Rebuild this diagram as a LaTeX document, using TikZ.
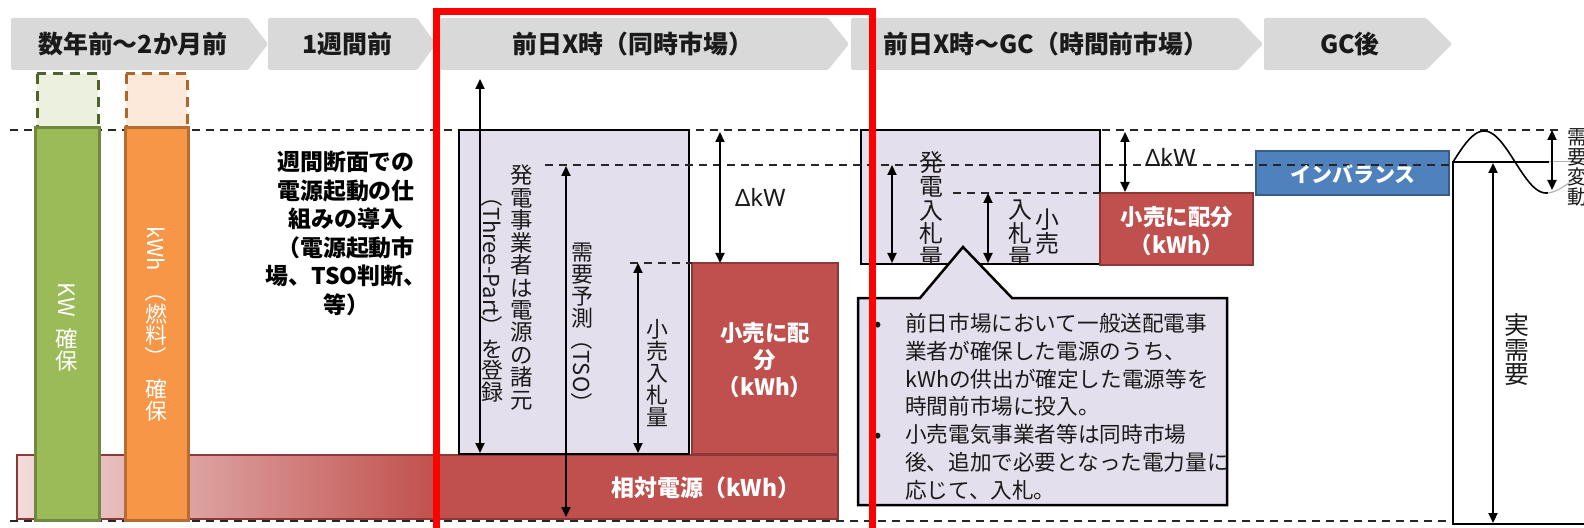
\documentclass[tikz,border=0pt]{standalone}
\usepackage{fontspec}
\setmainfont{Noto Sans CJK JP}
\newfontfamily\latinfont{Noto Sans}
\usepackage{graphicx}
\usetikzlibrary{arrows.meta}
\definecolor{chev}{HTML}{D9D9D9}
\definecolor{lilac}{HTML}{E4DFEC}
\definecolor{rfill}{HTML}{C0504D}
\definecolor{rdraw}{HTML}{8C3836}
\definecolor{bfill}{HTML}{4F81BD}
\definecolor{bdraw}{HTML}{385D8A}
\definecolor{gfill}{HTML}{9BBB59}
\definecolor{gdraw}{HTML}{71893F}
\definecolor{gpale}{HTML}{EBF1DE}
\definecolor{gdash}{HTML}{4F6228}
\definecolor{ofill}{HTML}{F79646}
\definecolor{odraw}{HTML}{B66D31}
\definecolor{opale}{HTML}{FDE9D9}
\definecolor{odash}{HTML}{B0652A}
\definecolor{pinkL}{HTML}{F2DCDB}
\definecolor{txt}{HTML}{1A1A1A}
\makeatletter
\newcommand{\vstr}[1]{\@tfor\vt@c:=#1\do{\hbox to 1em{\vrule width0pt height.88em depth.12em\hss\vt@c\hss}}}
\makeatother
\newcommand{\vlt}[1]{\hbox to 1em{\hss\rotatebox[origin=c]{-90}{\vrule width0pt height.88em depth.12em #1}\hss}}
\newcommand{\vcol}[1]{\vbox{\offinterlineskip #1}}
\begin{document}
\begin{tikzpicture}[x=1bp,y=-1bp,
  hdr/.style={font=\fontsize{25}{30}\selectfont\bfseries, text=txt, inner sep=0pt},
  dline/.style={dash pattern=on 8bp off 6bp, line width=1.6bp, draw=black!85},
  dimarrow/.style={{Triangle[length=10bp,width=9bp]}-{Triangle[length=10bp,width=9bp]}, line width=2bp, draw=black},
  lbox/.style={fill=lilac, draw=black, line width=2.5bp},
  rbox/.style={fill=rfill, draw=rdraw, line width=2.5bp},
  vt/.style={inner sep=0pt, anchor=north, text=txt},
  wt/.style={text=white, font=\fontsize{22.5}{27}\selectfont\bfseries, align=center, inner sep=0pt},
  ctext/.style={anchor=base west, inner sep=0pt, text=txt, font=\fontsize{21.7}{26}\selectfont},
  dkw/.style={anchor=west, inner sep=0pt, text=txt, font=\latinfont\fontsize{24}{28}\selectfont},
]
\useasboundingbox (0,0) rectangle (1584,528);
\fill[white] (0,0) rectangle (1584,528);

% header chevrons
\fill[chev, rounded corners=1.5bp] (11,18) -- (248,18) -- (268,44) -- (248,70) -- (11,70) -- cycle;
\fill[chev, rounded corners=1.5bp] (268,18) -- (417,18) -- (436,44) -- (417,70) -- (268,70) -- cycle;
\fill[chev, rounded corners=1.5bp] (440,18) -- (828,18) -- (849,44) -- (828,70) -- (440,70) -- cycle;
\fill[chev, rounded corners=1.5bp] (851,18) -- (1238,18) -- (1263,44) -- (1238,70) -- (851,70) -- cycle;
\fill[chev, rounded corners=1.5bp] (1264,18) -- (1426,18) -- (1452,44) -- (1426,70) -- (1264,70) -- cycle;
\node[hdr] (h1) at (133,44) {数年前～2か月前};
\node[hdr] (h2) at (347,44) {1週間前};
\node[hdr] (h3) at (633,44) {前日X時（同時市場）};
\node[hdr] (h4) at (1046,44) {前日X時～GC（時間前市場）};
\node[hdr] (h5) at (1350,44) {GC後};

% reference dashed lines
\coordinate (dTl) at (10,130); \coordinate (dTr) at (1563,130);
\coordinate (dBl) at (10,521); \coordinate (dBr) at (1453,521);
\draw[dline] (dTl) -- (dTr);
\draw[dline] (dBl) -- (dBr);

% 相対電源 bar
\shade[left color=pinkL, right color=rfill] (17,455) rectangle (436,519);
\fill[rfill] (436,455) rectangle (838,519);
\draw[rdraw, line width=2bp] (17,455) rectangle (838,519);
\node[wt, font=\fontsize{23}{27}\selectfont\bfseries] (sotai) at (706,488) {相対電源（kWh）};

% green / orange bars
\draw[fill=gpale, draw=gdash, line width=3bp, dash pattern=on 10bp off 7bp] (37,74) rectangle (98,128);
\draw[fill=gfill, draw=gdraw, line width=3bp] (35,128) rectangle (99,520);
\draw[fill=opale, draw=odash, line width=3bp, dash pattern=on 10bp off 7bp] (126,74) rectangle (187,128);
\draw[fill=ofill, draw=odraw, line width=3bp] (125,128) rectangle (188,520);
\node[vt, text=white, font=\fontsize{22.5}{26}\selectfont] (kw) at (67,282) {\vcol{\vlt{K\kern1bp W}\kern10bp\vstr{確保}}};
\node[vt, text=white, font=\fontsize{22}{26}\selectfont] (kwh) at (156,226) {\vcol{\vlt{kWh}\kern10bp\vlt{（}\vstr{燃料}\vlt{）}\kern10bp\vstr{確保}}};

% weekly text
\node[font=\fontsize{23}{28.6}\selectfont\bfseries, align=center, text=black, inner sep=0pt] (week) at (346,233.5) {週間断面での\\電源起動の仕\\組みの導入\\（電源起動市\\場、TSO判断、\\等）};

% day-ahead boxes
\draw[lbox] (459,130) rectangle (689,454);
\draw[rbox] (692,263) rectangle (838,454);
% intraday boxes
\draw[lbox] (861,130) rectangle (1100,264);
\draw[rbox] (1100,193) rectangle (1253,265);
\draw[fill=bfill, draw=bdraw, line width=2.5bp] (1256,151) rectangle (1449,195);

% inner dashed lines
\coordinate (d2l) at (545,165); \coordinate (d2r) at (1453,165);
\draw[dline] (d2l) -- (d2r);
\coordinate (d3l) at (630,263); \coordinate (d3r) at (692,263);
\draw[dline] (d3l) -- (d3r);
\coordinate (d4l) at (953,193); \coordinate (d4r) at (1100,193);
\draw[dline] (d4l) -- (d4r);

% arrows
\coordinate (a1t) at (480,79);   \coordinate (a1b) at (480,453);
\coordinate (a2t) at (720,132);  \coordinate (a2b) at (720,263);
\coordinate (a3t) at (566,166);  \coordinate (a3b) at (566,517);
\coordinate (a4t) at (638,263);  \coordinate (a4b) at (638,453);
\coordinate (a5t) at (892,165);  \coordinate (a5b) at (892,263);
\coordinate (a6t) at (988,193);  \coordinate (a6b) at (988,263);
\coordinate (a7t) at (1125,132); \coordinate (a7b) at (1125,192);
\coordinate (a8t) at (1552,130); \coordinate (a8b) at (1552,190);
\coordinate (a9t) at (1493,163); \coordinate (a9b) at (1493,523);
\draw[dimarrow] (a1t) -- (a1b);
\draw[dimarrow] (a2t) -- (a2b);
\draw[dimarrow] (a3t) -- (a3b);
\draw[dimarrow] (a4t) -- (a4b);
\draw[dimarrow] (a5t) -- (a5b);
\draw[dimarrow] (a6t) -- (a6b);
\draw[dimarrow] (a7t) -- (a7b);

% texts in day-ahead
\node[vt, font=\fontsize{22.5}{27}\selectfont] (colA) at (522,164) {\vcol{\vstr{発電事業者は電源の諸元}}};
\node[vt, font=\fontsize{22}{26}\selectfont] (colB) at (492,185) {\vcol{\vlt{（Three-Part）}\vstr{を登録}}};
\node[vt, font=\fontsize{22}{26}\selectfont] (colC) at (582,241) {\vcol{\vstr{需要予測}\vlt{（TSO）}}};
\node[vt, font=\fontsize{22}{26}\selectfont] (colD) at (657,318) {\vcol{\vstr{小売入札量}}};
\node[dkw] (dkw1) at (735,197) {ΔkW};
\node[wt] (r1) at (765,360) {小売に配\\分\\（kWh）};

% texts in intraday
\begin{scope}
\clip (861,130) rectangle (1100,264);
\node[vt, font=\fontsize{24}{28}\selectfont] (colE) at (931,150) {\vcol{\vstr{発電入札量}}};
\node[vt, font=\fontsize{24}{28}\selectfont] (colF) at (1020,197) {\vcol{\vstr{入札量}}};
\end{scope}
\node[vt, font=\fontsize{24}{28}\selectfont] (colG) at (1047,207) {\vcol{\vstr{小売}}};
\node[dkw] (dkw2) at (1145,157) {ΔkW};
\node[wt, font=\fontsize{22.5}{28}\selectfont\bfseries] (r2) at (1177,231) {小売に配分\\（kWh）};
\node[wt, font=\fontsize{21}{25}\selectfont\bfseries] (imb) at (1353,174) {インバランス};

% callout
\draw[fill=lilac, draw=black, line width=2.5bp] (858,298) -- (920,298) -- (963,247) -- (1012,298) -- (1227,298) -- (1227,505) -- (858,505) -- cycle;
\node[ctext] (b1) at (874,331.4) {•};
\node[ctext] (b2) at (874,442.4) {•};
\node[ctext] (c1) at (905,331.4) {前日市場において一般送配電事};
\node[ctext] (c2) at (905,359.2) {業者が確保した電源のうち、};
\node[ctext] (c3) at (905,387.0) {kWhの供出が確定した電源等を};
\node[ctext] (c4) at (905,414.8) {時間前市場に投入。};
\node[ctext] (c5) at (905,442.6) {小売電気事業者等は同時市場};
\node[ctext] (c6) at (905,470.4) {後、追加で必要となった電力量に};
\node[ctext] (c7) at (905,498.2) {応じて、入札。};

% after GC
\draw[line width=2.5bp] (1549,162) -- (1453,162) -- (1453,524) -- (1590,524);
\draw[gray!60, line width=1bp] (1549,162) -- (1590,162);
\draw[line width=1.6bp] plot[domain=1453:1548, samples=80, smooth] (\x, {162-31*sin((\x-1453)*2.9)});
\draw[gray!60, line width=1.2bp] (1548,193) .. controls (1556,192) and (1563,187) .. (1572,181);
\draw[dimarrow] (a8t) -- (a8b);
\draw[dimarrow] (a9t) -- (a9b);
\node[vt, font=\fontsize{20}{24}\selectfont] (hendo) at (1577,127) {\vcol{\vstr{需要変動}}};
\node[vt, font=\fontsize{25}{30}\selectfont] (jitsu) at (1517,312) {\vcol{\vstr{実需要}}};

% red frame
\draw[red, line width=7bp] (436,12) rectangle (872,545);
\end{tikzpicture}
\end{document}
